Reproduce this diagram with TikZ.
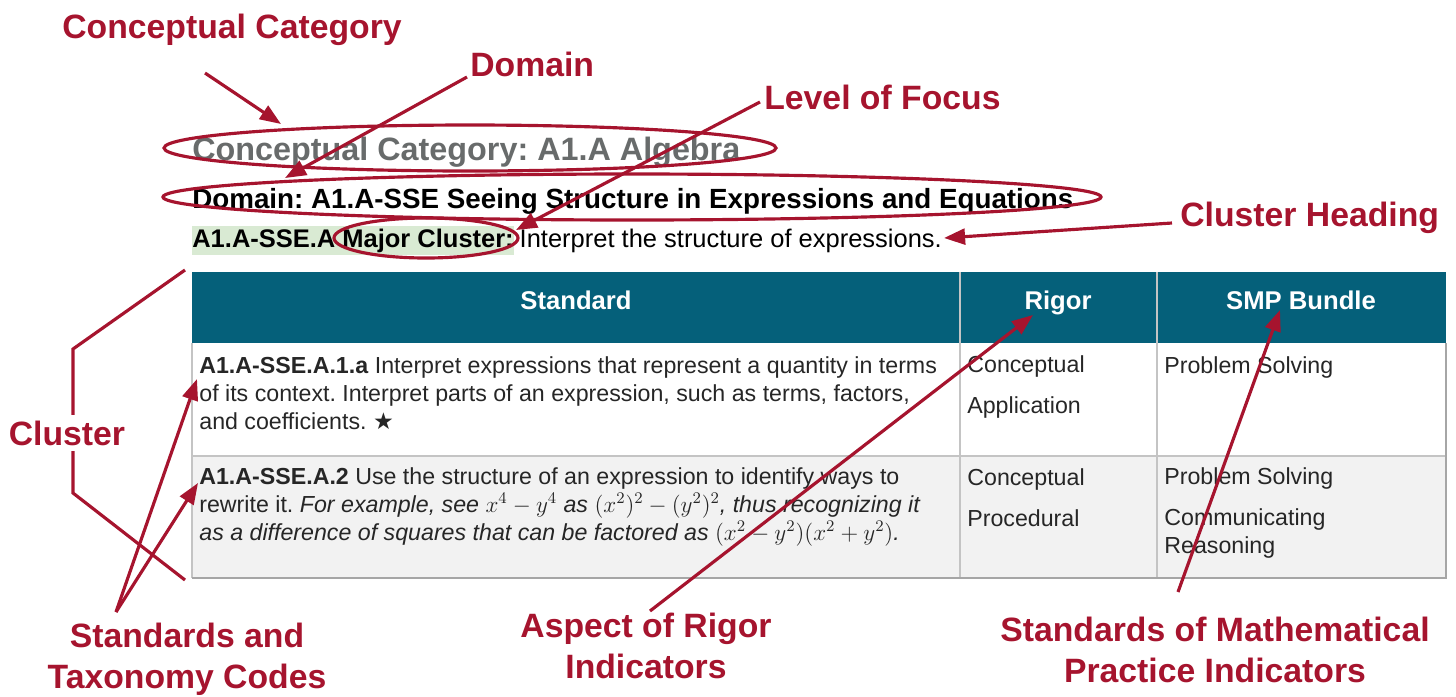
\documentclass[tikz,border=0pt]{standalone}
\usepackage{fix-cm}
\usepackage{fontspec}
\setmainfont{Liberation Sans}
\newfontfamily\starfont{DejaVu Sans}
\usetikzlibrary{positioning, shapes.geometric, arrows.meta}
\frenchspacing

\definecolor{markred}{RGB}{166,20,46}
\definecolor{headteal}{RGB}{5,96,122}
\definecolor{titlegray}{RGB}{104,107,107}
\definecolor{hlgreen}{RGB}{217,234,211}
\definecolor{rowgray}{RGB}{242,242,242}
\definecolor{gridgray}{RGB}{196,196,196}

\tikzset{
	callout/.style={font=\bfseries\fontsize{19.2}{22.8}\selectfont, text=markred, inner sep=0pt, align=center},
	pointer/.style={draw=markred, line width=1.8pt, -{Triangle[length=12pt, width=9pt]}},
	ring/.style={draw=markred, line width=1.8pt, ellipse, inner sep=0pt},
	cell/.style={font=\fontsize{13.2}{15.9}\selectfont, anchor=base west, inner sep=0pt, align=left, text=black!85},
	headcell/.style={font=\bfseries\fontsize{14.6}{17}\selectfont, text=white, anchor=base, inner sep=0pt}
}

\begin{document}
\begin{tikzpicture}[x=0.2mm, y=-0.2mm]
	\useasboundingbox (0,0) rectangle (1456,696);
	
	% heading lines
	\node[anchor=base west, inner sep=0pt, text=titlegray, font=\bfseries\fontsize{18.4}{22}\selectfont] (titleCat) at (192,160) {Conceptual Category: A1.A Algebra};
	\node[anchor=base west, inner sep=0pt, font=\bfseries\fontsize{15.8}{19}\selectfont] (titleDomain) at (192,208) {Domain: A1.A-SSE Seeing Structure in Expressions and Equations};
	\node[anchor=base west, fill=hlgreen, inner xsep=0pt, inner ysep=1.5pt, font=\bfseries\fontsize{14.5}{17}\selectfont] (clusterTag) at (192,247) {A1.A-SSE.A Major Cluster:};
	\node[anchor=base west, inner xsep=3pt, inner ysep=0pt, font=\fontsize{14.5}{17}\selectfont] (clusterText) at (clusterTag.base east) {Interpret the structure of expressions.};
	
	% table
	\fill[headteal] (192,272) rectangle (1446,343);
	\fill[rowgray] (192,456) rectangle (1446,578);
	\draw[gridgray, line width=0.6pt] (192,343) -- (192,578);
	\draw[gridgray, line width=0.6pt] (192,456) -- (1446,456);
	\foreach \x in {960,1157} {
		\draw[gridgray, line width=0.6pt] (\x,272) -- (\x,578);
	};
	\draw[black!35, line width=1.2pt] (1446,343) -- (1446,578) -- (192,578);
	
	\node[headcell] (headStd) at (576,309) {Standard};
	\node[headcell] (headRigor) at (1058,309) {Rigor};
	\node[headcell] (headSMP) at (1301,309) {SMP Bundle};
	
	% multi-line cells sit on the baseline of their last line
	\node[cell] (stdOne) at (199,429) {\textbf{A1.A-SSE.A.1.a} Interpret expressions that represent a quantity in terms\\of its context. Interpret parts of an expression, such as terms, factors,\\and coefficients. {\starfont ★}};
	\node[cell] (stdTwo) at (199,540) {\textbf{A1.A-SSE.A.2} Use the structure of an expression to identify ways to\\rewrite it. \textit{For example, see $x^4-y^4$ as $(x^2)^2-(y^2)^2$, thus recognizing it}\\\textit{as a difference of squares that can be factored as $(x^2-y^2)(x^2+y^2)$.}};
	\node[cell] (rigorOne) at (967,413) {Conceptual\\[6.9pt]Application};
	\node[cell] (rigorTwo) at (967,526) {Conceptual\\[6.9pt]Procedural};
	\node[cell] (smpOne) at (1164,373) {Problem Solving};
	\node[cell] (smpTwo) at (1164,553) {Problem Solving\\[7.4pt]Communicating\\Reasoning};
	
	% rings
	\node[ring, minimum width=122.4mm, minimum height=9.2mm] (ringCat) at (470,148) {};
	\node[ring, minimum width=187.6mm, minimum height=9.2mm] (ringDomain) at (632,197) {};
	\node[ring, minimum width=36.8mm, minimum height=8mm] (ringFocus) at (426,238) {};
	
	% callouts
	\node[callout, anchor=base west] (lblCat) at (62,38) {Conceptual Category};
	\node[callout, anchor=base west] (lblDomain) at (470,76) {Domain};
	\node[callout, anchor=base west] (lblFocus) at (764,109) {Level of Focus};
	\node[callout, anchor=base west] (lblHeading) at (1180,226) {Cluster Heading};
	\node[callout, anchor=base] (lblCodes) at (187,688) {Standards and\\Taxonomy Codes};
	\node[callout, anchor=base] (lblRigor) at (646,678) {Aspect of Rigor\\Indicators};
	\node[callout, anchor=base] (lblSMP) at (1215,682) {Standards of Mathematical\\Practice Indicators};
	
	\coordinate (catFoot) at (205,73);
	\coordinate (catTip) at (281,124);
	\coordinate (domFoot) at (467,77);
	\coordinate (domTip) at (285,178);
	\coordinate (focusFoot) at (760,102);
	\coordinate (focusTip) at (516,230);
	\coordinate (headFoot) at (1172,223);
	\coordinate (headTip) at (944,238);
	\coordinate (codesFoot) at (116,612);
	\coordinate (codeOneTip) at (197,379);
	\coordinate (codeTwoTip) at (198,483);
	\coordinate (rigorFoot) at (650,611);
	\coordinate (rigorTip) at (1033,315);
	\coordinate (smpFoot) at (1178,592);
	\coordinate (smpTip) at (1280,310);
	
	\draw[pointer] (catFoot) -- (catTip);
	\draw[pointer] (domFoot) -- (domTip);
	\draw[pointer] (focusFoot) -- (focusTip);
	\draw[pointer] (headFoot) -- (headTip);
	\foreach \t in {codeOneTip, codeTwoTip} {
		\draw[pointer] (codesFoot) -- (\t);
	};
	\draw[pointer] (rigorFoot) -- (rigorTip);
	\draw[pointer] (smpFoot) -- (smpTip);
	
	% cluster bracket
	\draw[markred, line width=1.8pt] (185,270) -- (73,349) -- (73,493) -- (185,580);
	\node[callout, fill=white, inner sep=3pt] (lblCluster) at (67,433) {Cluster};
\end{tikzpicture}
\end{document}
